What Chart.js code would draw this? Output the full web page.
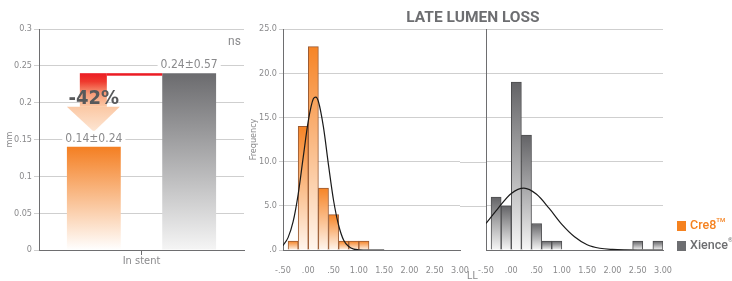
<!DOCTYPE html>
<html><head><meta charset="utf-8">
<script src="https://cdn.jsdelivr.net/npm/chart.js@4.4.1/dist/chart.umd.min.js"></script>
<style>
html,body{margin:0;padding:0;background:#fff;}
body{width:732px;height:281px;position:relative;overflow:hidden;font-family:Roboto,'DejaVu Sans',sans-serif;}
canvas{position:absolute;top:0;}
.t{position:absolute;white-space:nowrap;}
#title{left:373px;width:200px;top:8px;text-align:center;font-size:15.5px;font-weight:bold;color:#6d6e71;}
#ns{left:228px;top:34px;font-size:12px;color:#8a8a8c;}
#ll{left:467px;top:270px;font-size:10px;color:#8a8a8c;}
.sq{position:absolute;width:9px;height:10px;}
.lg{position:absolute;left:690px;font-size:12.5px;font-weight:500;}
.lg sup{font-size:6px;vertical-align:top;position:relative;top:-1px;}
</style></head>
<body>
<canvas id="c1" width="245" height="281" style="left:0;width:245px;height:281px"></canvas>
<canvas id="c2" width="225" height="281" style="left:245px;width:225px;height:281px"></canvas>
<canvas id="c3" width="262" height="281" style="left:470px;width:262px;height:281px"></canvas>
<div class="t" id="title">LATE LUMEN LOSS</div>
<div class="t" id="ns">ns</div>
<div class="t" id="ll">LL</div>
<div class="sq" style="left:677px;top:221px;background:#f58220"></div>
<div class="lg" style="top:217px;color:#f58220">Cre8<sup>TM</sup></div>
<div class="sq" style="left:677px;top:241px;background:#6d6e71"></div>
<div class="lg" style="top:237px;color:#6d6e71">Xience<sup>®</sup></div>
<script>
// ---- data ----
const categories = ['In stent'];
const seriesNames = ['Cre8™', 'Xience®'];
const meanLL = [0.14, 0.24];
const sdLL = [0.24, 0.57];
const leftTicks = [0, 0.05, 0.1, 0.15, 0.2, 0.25, 0.3];

const binCenters = [-0.3, -0.1, 0.1, 0.3, 0.5, 0.7, 0.9, 1.1, 1.3, 1.5, 1.7, 1.9, 2.1, 2.3, 2.5, 2.7, 2.9];
const cre8Counts   = [1, 14, 23, 7, 4, 1, 1, 1, 0, 0, 0, 0, 0, 0, 0, 0, 0];
const xienceCounts = [6, 5, 19, 13, 3, 1, 1, 0, 0, 0, 0, 0, 0, 0, 1, 0, 1];

const cre8CurveX = [-0.5, -0.4, -0.3, -0.2, -0.1, 0, 0.1, 0.15, 0.2, 0.3, 0.4, 0.5, 0.6, 0.7, 0.8, 0.9, 1.0, 1.2, 1.5];
const cre8CurveY = [0.5, 1.4, 3.2, 6.3, 10.5, 14.6, 17.1, 17.3, 16.8, 13.9, 9.6, 5.6, 2.8, 1.1, 0.4, 0.1, 0.03, 0, 0];
const xienceCurveX = [-0.5, -0.25, 0, 0.25, 0.5, 0.75, 1.0, 1.25, 1.5, 1.75, 2.0, 2.25, 2.5, 3.0];
const xienceCurveY = [3.0, 4.8, 6.4, 7.0, 6.3, 4.7, 2.9, 1.5, 0.6, 0.2, 0.06, 0.01, 0, 0];

const freqTickLabels = ['.0', '5.0', '10.0', '15.0', '20.0', '25.0'];
const llTickLabels = ['-.50', '.00', '.50', '1.00', '1.50', '2.00', '2.50', '3.00'];

// ---- style ----
const FONT = "'DejaVu Sans Condensed','DejaVu Sans',sans-serif";
Chart.defaults.font.family = FONT;
Chart.defaults.color = '#8a8a8c';
const GRID = '#cfcfcf';
const AXIS = '#6e6e70';

function vGrad(ctx, top, bottom) {
  const ch = ctx.chart;
  if (!ch.chartArea || !ctx.parsed) return top;
  const ys = ch.scales.y;
  const y0 = ys.getPixelForValue(ctx.parsed.y), y1 = ys.getPixelForValue(0);
  if (!isFinite(y0) || y1 - y0 < 1) return top;
  const g = ch.ctx.createLinearGradient(0, y0, 0, y1);
  g.addColorStop(0, top); g.addColorStop(1, bottom);
  return g;
}

// ---- left bar chart ----
const annot = {
  id: 'annot',
  afterDatasetsDraw(chart) {
    const c = chart.ctx;
    const b0 = chart.getDatasetMeta(0).data[0];
    const b1 = chart.getDatasetMeta(1).data[0];
    c.save();
    const xL = b0.x - 14, xR = b0.x + 13;
    const yTop = b1.y;
    const tip = b0.y - 15, aTop = tip - 25;
    c.fillStyle = '#ec1c24';
    c.fillRect(xR, yTop, (b1.x - b1.width / 2) - xR, 2.5);
    let g = c.createLinearGradient(0, yTop, 0, aTop);
    g.addColorStop(0, '#ec1c24'); g.addColorStop(0.25, '#ef3a2e');
    g.addColorStop(0.6, '#f79a77'); g.addColorStop(1, '#fbc8a4');
    c.fillStyle = g;
    c.fillRect(xL, yTop, xR - xL, aTop - yTop);
    g = c.createLinearGradient(0, aTop, 0, tip);
    g.addColorStop(0, '#fbc8a4'); g.addColorStop(1, '#fde6d4');
    c.fillStyle = g;
    c.beginPath();
    c.moveTo(b0.x - 27, aTop); c.lineTo(b0.x + 26, aTop); c.lineTo(b0.x, tip); c.closePath();
    c.fill();
    const pct = Math.round((meanLL[0] - meanLL[1]) / meanLL[1] * 100);
    c.font = "bold 20px " + FONT;
    c.fillStyle = '#58595b';
    c.textAlign = 'center'; c.textBaseline = 'middle';
    c.fillText(pct + '%', b0.x, aTop - 8);
    c.font = "12px " + FONT;
    [b0, b1].forEach((b, i) => {
      const txt = meanLL[i].toFixed(2) + '±' + sdLL[i].toFixed(2);
      const w = c.measureText(txt).width + 6;
      c.fillStyle = '#fff';
      c.fillRect(b.x - w / 2, b.y - 16, w, 14);
      c.fillStyle = '#8a8a8c';
      c.fillText(txt, b.x, b.y - 8);
    });
    c.restore();
  }
};

new Chart(document.getElementById('c1'), {
  type: 'bar',
  data: {
    labels: categories,
    datasets: [
      { label: seriesNames[0], data: [meanLL[0]], backgroundColor: ctx => vGrad(ctx, '#f47f22', '#ffffff') },
      { label: seriesNames[1], data: [meanLL[1]], backgroundColor: ctx => vGrad(ctx, '#6b6b6e', '#f5f5f5') }
    ]
  },
  options: {
    responsive: false, animation: false,
    layout: { padding: { top: 29, right: 1, left: 0, bottom: 0 } },
    plugins: { legend: { display: false }, tooltip: { enabled: false } },
    datasets: { bar: { categoryPercentage: 0.93, barPercentage: 0.565 } },
    scales: {
      x: {
        afterFit: s => { s.height = 31; },
        grid: { display: true, drawOnChartArea: false, offset: false, tickLength: 5, color: AXIS },
        border: { color: AXIS, width: 1 },
        ticks: { color: '#8a8a8c', font: { size: 11 }, padding: 0 }
      },
      y: {
        min: 0, max: 0.3,
        afterFit: s => { s.width = 39; },
        afterBuildTicks: s => { s.ticks = leftTicks.map(v => ({ value: v })); },
        grid: { color: GRID, lineWidth: 1, tickLength: 5 },
        border: { color: AXIS, width: 1 },
        ticks: { font: { size: 9 }, padding: 2, color: '#8a8a8c', callback: v => String(v) },
        title: { display: true, text: 'mm', font: { size: 9 }, color: '#8a8a8c', padding: { top: 4, bottom: 0 } }
      }
    }
  },
  plugins: [annot]
});

// ---- histograms ----
const extendGrid = {
  id: 'extendGrid',
  afterDraw(chart, args, opts) {
    const c = chart.ctx, ys = chart.scales.y, a = chart.chartArea;
    const x0 = opts.side === 'right' ? a.right : 0;
    const x1 = opts.side === 'right' ? chart.width : a.left;
    c.save();
    c.strokeStyle = GRID; c.lineWidth = 1;
    ys.ticks.forEach(t => {
      if (t.value === 0) return;
      const y = Math.round(ys.getPixelForValue(t.value)) + 0.5;
      c.beginPath(); c.moveTo(x0, y); c.lineTo(x1, y); c.stroke();
    });
    c.restore();
  }
};

function makeHist(id, counts, cx, cy, top, bottom, edge, opt) {
  return new Chart(document.getElementById(id), {
    data: {
      datasets: [
        {
          type: 'line', data: cx.map((x, i) => ({ x, y: cy[i] })),
          borderColor: '#1a1a1a', borderWidth: 1.2, pointRadius: 0, fill: false,
          cubicInterpolationMode: 'monotone', order: 0
        },
        {
          type: 'bar', data: binCenters.map((x, i) => ({ x, y: counts[i] })),
          backgroundColor: ctx => vGrad(ctx, top, bottom),
          borderColor: edge, borderWidth: 1, borderSkipped: 'bottom',
          barPercentage: 1, categoryPercentage: 1, order: 1
        }
      ]
    },
    options: {
      responsive: false, animation: false,
      layout: { padding: { top: 29, right: opt.padRight, left: 0, bottom: 0 } },
      plugins: { legend: { display: false }, tooltip: { enabled: false }, extendGrid: { side: opt.side } },
      scales: {
        x: {
          type: 'linear', min: -0.5, max: 3.0, offset: false,
          afterFit: s => { s.height = 31; s.paddingLeft = 0; s.paddingRight = 0; },
          afterBuildTicks: s => { s.ticks = llTickLabels.map((_, i) => ({ value: -0.5 + i * 0.5 })); },
          grid: { display: false },
          border: { color: AXIS, width: 1 },
          ticks: { font: { size: 9 }, color: '#8a8a8c', padding: 7, maxRotation: 0, autoSkip: false,
                   callback: (v, i) => llTickLabels[i] }
        },
        y: {
          min: 0, max: 25,
          afterFit: s => { s.width = opt.yWidth; },
          afterBuildTicks: s => { s.ticks = freqTickLabels.map((_, i) => ({ value: i * 5 })); },
          grid: { color: GRID, lineWidth: 1, tickLength: opt.showY ? 4 : 0, drawTicks: opt.showY },
          border: { color: AXIS, width: 1 },
          ticks: { display: opt.showY, font: { size: 9 }, color: '#8a8a8c', padding: 2,
                   callback: (v, i) => freqTickLabels[i] },
          title: { display: opt.showY, text: 'Frequency', font: { size: 9 }, color: '#8a8a8c', padding: { top: 3, bottom: 0 } }
        }
      }
    },
    plugins: [extendGrid]
  });
}

makeHist('c2', cre8Counts, cre8CurveX, cre8CurveY, '#f68426', '#fff6ee', '#9a5a32',
  { padRight: 10, yWidth: 38, showY: true, side: 'right' });
makeHist('c3', xienceCounts, xienceCurveX, xienceCurveY, '#636366', '#f7f7f7', '#4d4d4f',
  { padRight: 69, yWidth: 16, showY: false, side: 'left' });
</script>
</body></html>
